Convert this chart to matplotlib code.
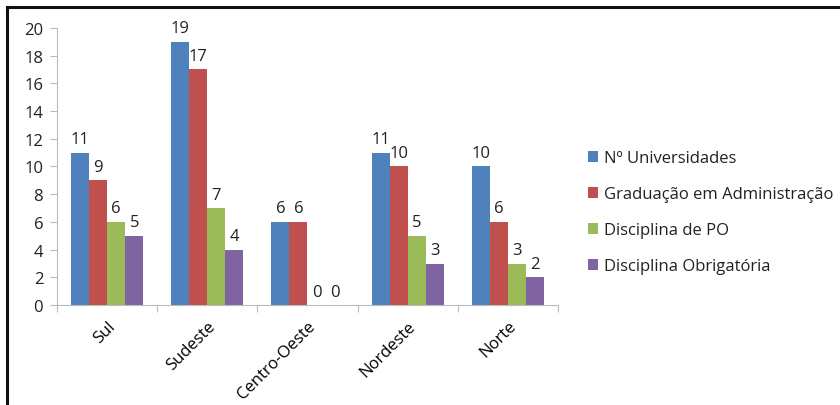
import numpy as np
import matplotlib.pyplot as plt
from matplotlib.lines import Line2D

# dados
regioes = ['Sul', 'Sudeste', 'Centro-Oeste', 'Nordeste', 'Norte']
series = ['Nº Universidades', 'Graduação em Administração',
          'Disciplina de PO', 'Disciplina Obrigatória']
universidades = [11, 19, 6, 11, 10]
graduacao = [9, 17, 6, 10, 6]
disciplina_po = [6, 7, 0, 5, 3]
obrigatoria = [5, 4, 0, 3, 2]

valores = [universidades, graduacao, disciplina_po, obrigatoria]
cores = ['#4F81BD', '#C0504D', '#9BBB59', '#8064A2']

plt.rcParams['font.family'] = ['Open Sans', 'DejaVu Sans']

fig = plt.figure(figsize=(8.4, 4.06), dpi=100)
ax = fig.add_axes([0.068, 0.246, 0.596, 0.683])

x = np.arange(len(regioes)) + 0.5
largura = 0.18
for i, (vals, cor, nome) in enumerate(zip(valores, cores, series)):
    pos = x + (i - 1.5) * largura
    ax.bar(pos, vals, largura, color=cor, label=nome, edgecolor='none')
    for p, v in zip(pos, vals):
        ax.annotate(str(v), (p, v), xytext=(0, 4), textcoords='offset points',
                    ha='center', va='bottom', fontsize=12, color='#222222')

ax.set_xlim(0, len(regioes))
ax.set_ylim(0, 20)
ax.set_yticks(range(0, 21, 2))
ax.set_xticks(range(len(regioes) + 1))
ax.set_xticklabels([])
ax.set_xticks(x, minor=True)
ax.set_xticklabels(regioes, minor=True, rotation=45, ha='right',
                   rotation_mode='anchor', fontsize=12)
ax.tick_params(axis='x', which='minor', length=0, pad=9)
ax.tick_params(axis='x', which='major', length=5, color='#BBBBBB')
ax.tick_params(axis='y', length=5, color='#BBBBBB', labelsize=12, pad=5,
               labelcolor='#222222')

for s in ['top', 'right']:
    ax.spines[s].set_visible(False)
for s in ['left', 'bottom']:
    ax.spines[s].set_color('#BBBBBB')

ax.legend(loc='center left', bbox_to_anchor=(1.03, 0.335), frameon=False,
          fontsize=12, handlelength=0.6, handleheight=0.6, handletextpad=0.4,
          labelspacing=1.2, labelcolor='#222222')

# moldura
fig.add_artist(Line2D([0.0083, 1], [0.980, 0.980], color='#111111', lw=2.2))
fig.add_artist(Line2D([0.0083, 0.0083], [0, 0.980], color='#111111', lw=2.2))

fig.savefig('out.png', dpi=100)
